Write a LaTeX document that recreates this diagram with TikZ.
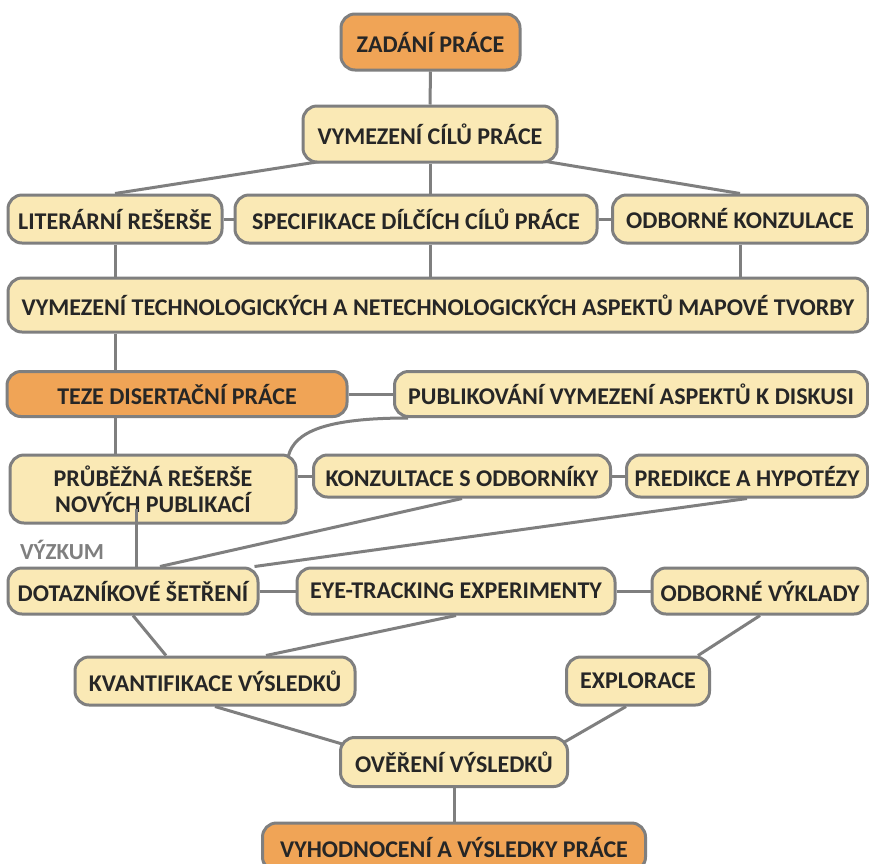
\documentclass[tikz,border=0pt]{standalone}
\usepackage{fontspec}
\setmainfont{Carlito}
\usetikzlibrary{calc,backgrounds}
\definecolor{boxfill}{HTML}{FAE9B5}
\definecolor{keyfill}{HTML}{F0A456}
\definecolor{edge}{HTML}{7F7F7F}
\definecolor{ink}{HTML}{262626}
\tikzset{
  box/.style={draw=edge, line width=3pt, fill=boxfill, rounded corners=14pt,
    text=ink, font=\fontsize{24}{26}\selectfont\bfseries, align=center,
    inner sep=0pt, minimum width=#1},
  box/.default=100pt,
  keybox/.style={box=#1, fill=keyfill},
  keybox/.default=100pt,
  link/.style={draw=edge, line width=3pt},
  tag/.style={text=edge, font=\fontsize{23}{26}\selectfont\bfseries, inner sep=0pt}
}
\begin{document}
\begin{tikzpicture}[x=1pt, y=-1pt]
\clip (0,0) rectangle (869,863);

% process steps
\node[keybox=179pt, minimum height=56pt] (zadani) at (430.5,42) {ZADÁNÍ PRÁCE};
\node[box=254pt, minimum height=56pt] (cile) at (430,134) {VYMEZENÍ CÍLŮ PRÁCE};
\node[box=214pt, minimum height=48pt] (liter) at (115,219) {LITERÁRNÍ REŠERŠE};
\node[box=362pt, minimum height=48pt] (spec) at (416,219) {SPECIFIKACE DÍLČÍCH CÍLŮ PRÁCE};
\node[box=255pt, minimum height=48pt] (odbkonz) at (740,219) {ODBORNÉ KONZULACE};
\node[box=860pt, minimum height=54pt] (tech) at (438,305) {VYMEZENÍ TECHNOLOGICKÝCH A NETECHNOLOGICKÝCH ASPEKTŮ MAPOVÉ TVORBY};
\node[keybox=340pt, minimum height=45pt] (teze) at (177,394) {TEZE DISERTAČNÍ PRÁCE};
\node[box=473pt, minimum height=45pt] (publ) at (631,394) {PUBLIKOVÁNÍ VYMEZENÍ ASPEKTŮ K DISKUSI};
\node[box=286pt, minimum height=68pt] (prub) at (153,489) {PRŮBĚŽNÁ REŠERŠE\\NOVÝCH PUBLIKACÍ};
\node[box=297pt, minimum height=42pt] (konz) at (462,476) {KONZULTACE S ODBORNÍKY};
\node[box=241pt, minimum height=42pt] (pred) at (747,476) {PREDIKCE A HYPOTÉZY};
\node[tag] (vyzkum) at (62,550) {VÝZKUM};
\node[box=250pt, minimum height=46pt] (dotaz) at (133,591) {DOTAZNÍKOVÉ ŠETŘENÍ};
\node[box=318pt, minimum height=46pt] (eye) at (456,591) {EYE-TRACKING EXPERIMENTY};
\node[box=216pt, minimum height=46pt] (vykl) at (760,591) {ODBORNÉ VÝKLADY};
\node[box=280pt, minimum height=48pt] (kvant) at (215,681) {KVANTIFIKACE VÝSLEDKŮ};
\node[box=143pt, minimum height=48pt] (explor) at (638,681) {EXPLORACE};
\node[box=227pt, minimum height=49pt] (over) at (454,762) {OVĚŘENÍ VÝSLEDKŮ};
\node[keybox=383pt, minimum height=48pt] (vyhod) at (454,847) {VYHODNOCENÍ A VÝSLEDKY PRÁCE};

% page ground and connectors behind the boxes
\begin{pgfonlayer}{background}
\fill[white] (0,0) rectangle (869,863);
\draw[link] (zadani.south) -- (cile.north);
\draw[link] ($(cile.south)+(-110,-2)$) -- (liter.north);
\draw[link] (cile.south) -- (cile.south |- spec.north);
\draw[link] ($(cile.south)+(110,-3)$) -- (odbkonz.north);
\draw[link] (liter.east) -- (spec.west);
\draw[link] (spec.east) -- (odbkonz.west);
\draw[link] (liter.south) -- (liter.south |- tech.north);
\draw[link] (cile.south |- spec.south) -- (cile.south |- tech.north);
\draw[link] (odbkonz.south) -- (odbkonz.south |- tech.north);
\draw[link] (liter.south |- tech.south) -- (liter.south |- teze.north);
\draw[link] ($(publ.north)+(-16,0)$) -- ($(publ.north)+(-16,0)$ |- tech.south);
\draw[link] (teze.east) -- (publ.west);
\draw[link] (liter.south |- teze.south) -- (liter.south |- prub.north);
\draw[link] ($(publ.south west)+(15,0)$) .. controls (325,418) and (295,432) .. ($(prub.north east)+(-9,2)$);
\draw[link] (konz.west -| prub.east) -- (konz.west);
\draw[link] (konz.east) -- (pred.west);
\draw[link] (konz.south) -- ($(dotaz.north)+(27,0)$);
\draw[link] (pred.south) -- ($(dotaz.north east)+(-5,0)$);
\draw[link] (dotaz.east) -- (eye.west);
\draw[link] (eye.east) -- (vykl.west);
\draw[link] (dotaz.south) -- ($(kvant.north)+(-49,0)$);
\draw[link] (eye.south) -- ($(kvant.north)+(51,0)$);
\draw[link] (vykl.south) -- ($(explor.north)+(60,0)$);
\draw[link] (kvant.south) -- ($(over.north west)+(10,10)$);
\draw[link] ($(explor.south)+(-12,0)$) -- ($(over.north east)+(-8,8)$);
\draw[link] (over.south) -- (vyhod.north);
\end{pgfonlayer}

% the research branch leaves from inside the literature box
\coordinate (prubtap) at ($(prub.south)+(-17,-16)$);
\draw[link] (prubtap) -- (prubtap |- dotaz.north);
\end{tikzpicture}
\end{document}
